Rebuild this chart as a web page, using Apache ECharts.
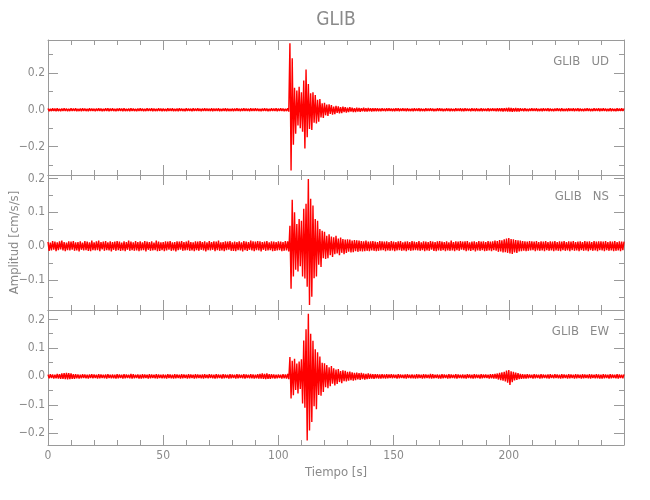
<!DOCTYPE html>
<html>
<head>
<meta charset="utf-8">
<script src="https://cdn.jsdelivr.net/npm/echarts@6/dist/echarts.min.js"></script>
<style>html,body{margin:0;padding:0;background:#fff}#c{width:650px;height:500px}</style>
</head>
<body>
<div id="c"></div>
<script>
// ---------- data (cm/s/s), one sample every 0.5 s from 0 to 250 s ----------
const sampleStep = 0.5;
const stationName = 'GLIB';
const components = ['UD', 'NS', 'EW'];

const udValues = [
.007,-.008,.006,-.007,.008,-.006,.007,-.008,.009,-.007,.006,-.008,.007,-.007,.008,-.006,.007,-.008,.006,-.007,
.008,-.007,.007,-.006,.008,-.008,.006,-.007,.007,-.008,.008,-.006,.007,-.007,.006,-.008,.008,-.007,.007,-.006,
.006,-.008,.007,-.007,.008,-.006,.007,-.008,.006,-.007,.008,-.007,.009,-.008,.007,-.006,.008,-.007,.006,-.008,
.007,-.007,.008,-.006,.007,-.008,.008,-.007,.006,-.007,.007,-.008,.008,-.006,.007,-.007,.006,-.008,.007,-.007,
.008,-.006,.007,-.008,.006,-.007,.008,-.007,.007,-.006,.008,-.008,.007,-.007,.006,-.007,.008,-.006,.007,-.008,
.007,-.007,.006,-.008,.008,-.007,.007,-.006,.008,-.008,.006,-.007,.007,-.008,.008,-.006,.007,-.007,.006,-.008,
.008,-.007,.007,-.006,.006,-.008,.008,-.007,.007,-.007,.008,-.006,.006,-.008,.007,-.007,.008,-.007,.007,-.006,
.006,-.007,.008,-.008,.007,-.006,.007,-.007,.008,-.008,.006,-.007,.007,-.006,.008,-.008,.007,-.007,.006,-.007,
.007,-.008,.007,-.007,.008,-.006,.006,-.008,.007,-.007,.008,-.007,.007,-.006,.006,-.008,.008,-.007,.007,-.007,
.008,-.006,.007,-.007,.006,-.008,.007,-.007,.008,-.006,.007,-.008,.006,-.007,.008,-.007,.007,-.006,.008,-.008,
.007,-.007,.008,-.006,.007,-.008,.006,-.007,.008,-.010,.362,-.330,.280,-.190,.120,-.130,.105,-.085,.125,-.100,
.095,-.120,.160,-.210,.220,-.150,.140,-.105,.090,-.110,.095,-.070,.080,-.075,.055,-.065,.058,-.042,.036,-.045,
.038,-.030,.028,-.034,.030,-.022,.025,-.027,.018,-.024,.022,-.017,.019,-.020,.014,-.018,.017,-.012,.014,-.015,
.012,-.013,.014,-.010,.011,-.012,.009,-.012,.012,-.010,.010,-.011,.009,-.008,.011,-.009,.008,-.010,.010,-.008,
.008,-.009,.009,-.008,.008,-.008,.008,-.008,.007,-.008,.008,-.007,.007,-.008,.008,-.007,.008,-.007,.007,-.008,
.007,-.008,.008,-.007,.008,-.008,.007,-.007,.008,-.006,.007,-.008,.008,-.007,.006,-.007,.007,-.008,.008,-.007,
.007,-.006,.008,-.008,.007,-.007,.006,-.008,.008,-.007,.007,-.007,.008,-.006,.007,-.008,.006,-.007,.008,-.007,
.008,-.007,.007,-.008,.006,-.007,.008,-.006,.007,-.008,.007,-.007,.006,-.008,.008,-.007,.007,-.006,.008,-.008,
.007,-.008,.008,-.007,.007,-.006,.006,-.008,.008,-.007,.007,-.008,.008,-.007,.006,-.007,.008,-.008,.007,-.006,
.006,-.007,.008,-.008,.007,-.007,.008,-.006,.007,-.008,.008,-.008,.009,-.008,.008,-.009,.009,-.008,.010,-.009,
.011,-.010,.010,-.011,.009,-.010,.010,-.009,.008,-.009,.008,-.007,.007,-.008,.008,-.007,.006,-.008,.007,-.007,
.008,-.006,.007,-.007,.008,-.008,.006,-.007,.007,-.008,.008,-.007,.007,-.006,.008,-.008,.007,-.007,.006,-.008,
.007,-.007,.008,-.006,.007,-.008,.008,-.007,.006,-.007,.007,-.008,.008,-.006,.007,-.007,.008,-.008,.007,-.006,
.008,-.008,.007,-.007,.006,-.008,.007,-.007,.008,-.006,.007,-.008,.006,-.007,.008,-.007,.007,-.006,.008,-.008,
.007,-.007,.008,-.006,.007,-.008,.006,-.007,.008,-.008,.007,-.007,.006,-.008,.008,-.007,.007,-.006,.008,-.007,
.007];

const nsValues = [
.012,-.014,.010,-.013,.015,-.011,.013,-.015,.011,-.012,.014,-.010,.016,-.013,.012,-.015,.010,-.012,.014,-.013,
.013,-.011,.015,-.014,.011,-.013,.012,-.016,.014,-.011,.010,-.013,.015,-.012,.013,-.014,.011,-.015,.016,-.012,
.011,-.013,.014,-.012,.016,-.015,.012,-.010,.013,-.014,.015,-.012,.011,-.013,.014,-.016,.012,-.011,.013,-.014,
.015,-.012,.013,-.014,.010,-.013,.014,-.015,.012,-.011,.016,-.014,.013,-.012,.011,-.014,.015,-.013,.012,-.015,
.014,-.013,.011,-.012,.015,-.016,.013,-.011,.012,-.014,.014,-.013,.010,-.012,.016,-.015,.013,-.014,.011,-.012,
.012,-.015,.014,-.013,.013,-.011,.015,-.014,.011,-.013,.012,-.016,.014,-.012,.013,-.011,.015,-.014,.012,-.013,
.013,-.012,.016,-.014,.012,-.013,.011,-.015,.014,-.012,.013,-.014,.015,-.011,.012,-.013,.014,-.016,.011,-.012,
.015,-.013,.012,-.011,.014,-.015,.013,-.012,.016,-.014,.011,-.013,.012,-.015,.014,-.012,.013,-.011,.015,-.014,
.011,-.014,.013,-.015,.012,-.012,.014,-.013,.011,-.016,.015,-.012,.013,-.014,.012,-.011,.016,-.013,.014,-.015,
.013,-.012,.015,-.013,.014,-.016,.012,-.011,.013,-.014,.015,-.013,.011,-.012,.014,-.015,.013,-.014,.012,-.013,
.014,-.012,.013,-.015,.012,-.014,.015,-.013,.014,-.016,.060,-.126,.137,-.090,.100,-.070,.065,-.075,.080,-.060,
.075,-.090,.110,-.096,.125,-.120,.198,-.174,.140,-.150,.120,-.095,.080,-.090,.075,-.055,.050,-.062,.045,-.036,
.042,-.038,.030,-.036,.035,-.027,.028,-.032,.026,-.024,.030,-.022,.022,-.027,.025,-.020,.021,-.024,.019,-.020,
.020,-.017,.019,-.019,.016,-.018,.018,-.015,.017,-.017,.016,-.015,.015,-.016,.014,-.015,.016,-.014,.013,-.015,
.014,-.013,.015,-.014,.013,-.015,.012,-.014,.015,-.013,.014,-.012,.013,-.015,.014,-.013,.012,-.014,.015,-.013,
.013,-.015,.012,-.013,.014,-.012,.015,-.014,.011,-.013,.013,-.015,.014,-.012,.012,-.014,.015,-.013,.013,-.012,
.012,-.013,.015,-.014,.011,-.012,.014,-.015,.013,-.013,.012,-.014,.015,-.011,.013,-.014,.012,-.015,.014,-.013,
.015,-.014,.013,-.012,.012,-.015,.014,-.013,.011,-.014,.016,-.013,.012,-.015,.014,-.012,.013,-.014,.015,-.011,
.013,-.012,.014,-.015,.015,-.013,.011,-.014,.013,-.012,.014,-.016,.012,-.013,.015,-.014,.013,-.012,.014,-.015,
.012,-.014,.015,-.013,.013,-.015,.014,-.012,.016,-.014,.015,-.017,.018,-.016,.017,-.019,.020,-.018,.022,-.020,
.024,-.022,.021,-.023,.020,-.019,.018,-.020,.017,-.016,.016,-.015,.015,-.014,.014,-.015,.013,-.014,.015,-.013,
.014,-.012,.013,-.015,.015,-.013,.012,-.014,.014,-.013,.013,-.015,.015,-.012,.012,-.014,.014,-.013,.013,-.015,
.015,-.013,.012,-.014,.014,-.015,.013,-.012,.015,-.014,.012,-.013,.014,-.015,.013,-.012,.015,-.014,.012,-.013,
.013,-.015,.014,-.012,.012,-.014,.015,-.013,.013,-.015,.014,-.012,.012,-.014,.015,-.013,.013,-.015,.014,-.012,
.014,-.013,.013,-.015,.015,-.012,.012,-.014,.014,-.013,.013,-.015,.015,-.014,.012,-.013,.014,-.015,.013,-.012,
.013];

const ewValues = [
.006,-.007,.008,-.006,.007,-.008,.006,-.007,.009,-.008,.008,-.009,.010,-.009,.011,-.010,.012,-.011,.011,-.010,
.010,-.009,.008,-.009,.008,-.007,.007,-.008,.006,-.007,.008,-.006,.007,-.007,.006,-.008,.007,-.006,.008,-.007,
.007,-.006,.006,-.008,.008,-.007,.007,-.006,.006,-.007,.007,-.008,.008,-.006,.006,-.007,.007,-.007,.006,-.008,
.008,-.007,.007,-.006,.006,-.008,.008,-.007,.007,-.006,.006,-.007,.009,-.008,.008,-.007,.006,-.006,.007,-.008,
.006,-.008,.008,-.007,.007,-.006,.006,-.008,.008,-.007,.007,-.006,.006,-.007,.008,-.008,.007,-.006,.006,-.007,
.007,-.007,.006,-.008,.008,-.006,.007,-.007,.006,-.008,.008,-.007,.007,-.006,.006,-.008,.008,-.007,.007,-.006,
.006,-.008,.008,-.007,.007,-.006,.006,-.008,.008,-.007,.007,-.006,.006,-.007,.007,-.008,.008,-.006,.006,-.007,
.008,-.006,.007,-.007,.006,-.008,.008,-.007,.007,-.006,.006,-.008,.008,-.007,.007,-.006,.006,-.008,.008,-.007,
.007,-.006,.006,-.008,.008,-.007,.007,-.006,.006,-.007,.008,-.008,.007,-.006,.006,-.007,.008,-.007,.007,-.008,
.006,-.007,.008,-.008,.009,-.008,.010,-.009,.009,-.010,.010,-.009,.008,-.009,.008,-.007,.007,-.008,.006,-.007,
.007,-.006,.006,-.008,.008,-.007,.007,-.008,.009,-.010,.068,-.078,.055,-.066,.062,-.048,.045,-.060,.052,-.044,
.060,-.095,.126,-.110,.165,-.225,.220,-.190,.150,-.160,.125,-.105,.095,-.115,.085,-.065,.070,-.068,.048,-.055,
.046,-.038,.040,-.042,.032,-.035,.036,-.026,.028,-.032,.024,-.027,.026,-.020,.019,-.024,.021,-.017,.019,-.018,
.016,-.015,.017,-.013,.014,-.015,.012,-.013,.013,-.011,.011,-.012,.012,-.010,.010,-.011,.009,-.010,.010,-.009,
.009,-.008,.008,-.009,.008,-.007,.008,-.008,.007,-.008,.008,-.007,.007,-.008,.008,-.007,.007,-.006,.008,-.007,
.007,-.006,.006,-.008,.008,-.007,.007,-.006,.006,-.007,.007,-.008,.008,-.006,.006,-.007,.007,-.007,.006,-.008,
.008,-.007,.007,-.006,.006,-.008,.008,-.007,.007,-.006,.006,-.007,.009,-.008,.008,-.007,.006,-.006,.007,-.008,
.006,-.008,.008,-.007,.007,-.006,.006,-.008,.008,-.007,.007,-.006,.006,-.007,.008,-.008,.007,-.006,.006,-.007,
.007,-.007,.006,-.008,.008,-.006,.007,-.007,.006,-.008,.008,-.007,.007,-.006,.006,-.008,.008,-.007,.007,-.006,
.007,-.006,.006,-.008,.008,-.007,.008,-.008,.009,-.008,.010,-.011,.012,-.013,.014,-.015,.016,-.018,.020,-.022,
.022,-.030,.018,-.020,.016,-.014,.013,-.012,.011,-.010,.009,-.009,.008,-.008,.007,-.008,.008,-.007,.007,-.006,
.006,-.008,.008,-.007,.007,-.006,.006,-.008,.008,-.007,.007,-.006,.006,-.007,.007,-.008,.008,-.006,.006,-.007,
.008,-.006,.007,-.007,.006,-.008,.008,-.007,.007,-.006,.006,-.008,.008,-.007,.007,-.006,.006,-.008,.008,-.007,
.007,-.006,.006,-.008,.008,-.007,.007,-.006,.006,-.007,.008,-.008,.007,-.006,.006,-.007,.008,-.007,.007,-.008,
.006,-.008,.008,-.007,.007,-.006,.006,-.008,.008,-.007,.007,-.006,.006,-.007,.008,-.008,.007,-.006,.006,-.007,
.007];

// axis ranges and ticks
const timeRange = [0, 250];
const timeMajor = 50;
const udRange = [-0.355, 0.38];
const nsRange = [-0.189, 0.210];
const ewRange = [-0.241, 0.233];
const udMajor = [-0.2, 0.0, 0.2];
const udMinor = [-0.3, -0.1, 0.1, 0.3];
const nsMajor = [-0.1, 0.0, 0.1, 0.2];
const nsMinor = [-0.15, -0.05, 0.05, 0.15];
const ewMajor = [-0.2, -0.1, 0.0, 0.1, 0.2];
const ewMinor = [-0.15, -0.05, 0.05, 0.15];

// ---------- chart ----------
const FONT = "'Liberation Sans Narrow', 'DejaVu Sans Condensed', 'Roboto Condensed', sans-serif";
const LINE = '#9a9a9a';
const TEXT = '#8a8a8a';
const panels = [
  {vals: udValues, range: udRange, major: udMajor, minor: udMinor},
  {vals: nsValues, range: nsRange, major: nsMajor, minor: nsMinor},
  {vals: ewValues, range: ewRange, major: ewMajor, minor: ewMinor}
];
const gridTop = 40, gridH = 135, gridLeft = 48, gridW = 576;

const fmt = v => (v < 0 ? '\u2212' : '') + Math.abs(v).toFixed(1);

const grid = [], xAxis = [], yAxis = [], series = [];
panels.forEach((p, k) => {
  grid.push({left: gridLeft, top: gridTop + k * gridH, width: gridW, height: gridH,
             containLabel: false, outerBoundsMode: 'none'});
  ['bottom', 'top'].forEach(pos => {
    const isLabelled = pos === 'bottom' && k === 2;
    xAxis.push({
      type: 'value', gridIndex: k, position: pos, min: timeRange[0], max: timeRange[1], interval: timeMajor,
      axisLine: {show: true, onZero: false, lineStyle: {color: LINE, width: 1}},
      axisTick: {show: true, inside: true, length: 10, lineStyle: {color: LINE}},
      minorTick: {show: true, splitNumber: 5, length: 5, lineStyle: {color: LINE}},
      splitLine: {show: false}, minorSplitLine: {show: false},
      axisLabel: {show: isLabelled, color: TEXT, fontFamily: FONT, fontSize: 12, margin: 5, showMaxLabel: false},
      name: isLabelled ? 'Tiempo [s]' : '', nameLocation: 'middle', nameGap: 21, nameMoveOverlap: false,
      nameTextStyle: {color: TEXT, fontFamily: FONT, fontSize: 13}
    });
  });
  ['left', 'right'].forEach(pos => {
    [['major', 10], ['minor', 5]].forEach(([kind, len]) => {
      const labelled = pos === 'left' && kind === 'major';
      const ticks = kind === 'major' ? p.major : p.minor;
      yAxis.push({
        type: 'value', gridIndex: k, position: pos, min: p.range[0], max: p.range[1],
        axisLine: {show: kind === 'major', onZero: false, lineStyle: {color: LINE, width: 1}},
        axisTick: {show: true, inside: true, length: len, customValues: ticks, lineStyle: {color: LINE}},
        splitLine: {show: false},
        axisLabel: {show: labelled, customValues: ticks, formatter: fmt, color: TEXT, fontFamily: FONT, fontSize: 12, margin: 3},
        name: (labelled && k === 1) ? 'Amplitud [cm/s/s]' : '', nameLocation: 'middle', nameGap: 27,
        nameMoveOverlap: false,
        nameTextStyle: {color: TEXT, fontFamily: FONT, fontSize: 13}
      });
    });
  });
  series.push({
    type: 'line', xAxisIndex: k * 2, yAxisIndex: k * 4,
    data: p.vals.map((v, i) => [i * sampleStep, v]),
    showSymbol: false, symbol: 'none', sampling: false, animation: false, silent: true,
    lineStyle: {color: '#ff0000', width: 1.4}, clip: true
  });
});

const title = [{
  text: stationName, left: 336, top: 11, textAlign: 'center', padding: 0,
  textStyle: {color: TEXT, fontFamily: FONT, fontSize: 19, fontWeight: 'normal'}
}];
components.forEach((c, k) => {
  title.push({
    text: stationName + '   ' + c, right: 41, top: 55 + k * gridH, padding: 0,
    textStyle: {color: TEXT, fontFamily: FONT, fontSize: 13, fontWeight: 'normal'}
  });
});

const chart = echarts.init(document.getElementById('c'), null, {renderer: 'canvas'});
chart.setOption({
  animation: false, backgroundColor: '#ffffff',
  title, grid, xAxis, yAxis, series
});
</script>
</body>
</html>
